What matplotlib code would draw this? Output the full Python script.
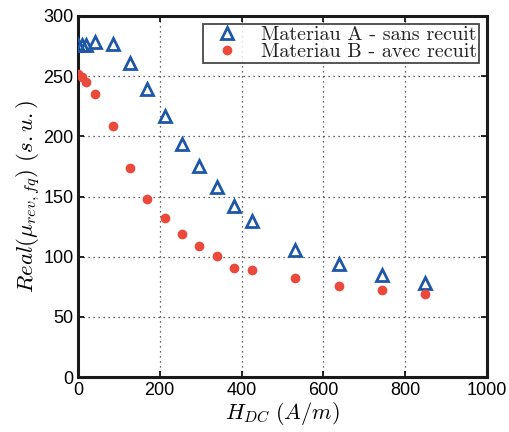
import matplotlib
matplotlib.use("Agg")
import matplotlib.pyplot as plt

plt.rcParams['mathtext.fontset'] = 'cm'
plt.rcParams['font.family'] = ['Liberation Sans', 'DejaVu Sans']

h_a = [0, 10, 20, 42, 85, 127, 170, 212, 255, 297, 340, 382, 425, 531, 637, 743, 849]
mu_a = [276, 276, 276, 278, 277, 261, 239, 217, 194, 175, 158, 142, 130, 106, 94, 85, 78]
h_b = [0, 10, 21, 42, 85, 127, 170, 212, 255, 297, 340, 382, 425, 531, 637, 743, 849]
mu_b = [252, 249, 245, 235, 209, 174, 148, 132, 119, 109, 101, 91, 89, 82, 76, 72, 69]

label_a = 'Materiau A - sans recuit'
label_b = 'Materiau B - avec recuit'
xticks = [0, 200, 400, 600, 800, 1000]
yticks = [0, 50, 100, 150, 200, 250, 300]

fig = plt.figure(figsize=(5.09, 4.32), dpi=100)
ax = fig.add_axes([0.153, 0.127, 0.804, 0.836])

ax.plot(h_a, mu_a, linestyle='none', marker='^', markersize=8, markerfacecolor='none',
        markeredgecolor='#1f57a8', markeredgewidth=2.0, label=label_a, zorder=3)
ax.plot(h_b, mu_b, linestyle='none', marker='o', markersize=6, markerfacecolor='#ea4a3c',
        markeredgecolor='#ea4a3c', label=label_b, zorder=3)

ax.set_xlim(0, 1000)
ax.set_ylim(0, 300)
ax.set_xticks(xticks)
ax.set_yticks(yticks)
ax.tick_params(direction='in', top=True, right=True, labelsize=13, length=4, width=1.2)
ax.tick_params(axis='x', pad=3.5)
ax.tick_params(axis='y', pad=3)
ax.grid(True, linestyle=(0, (1, 3)), color='#333333', linewidth=0.9)
for s in ax.spines.values():
    s.set_linewidth(2.2)
    s.set_color('#1a1a1a')

ax.set_xlabel(r'$H_{DC}\ (A/m)$', fontsize=16, labelpad=0.5)
ax.set_ylabel(r'$Real(\mu_{rev,fq})\ (s.u.)$', fontsize=16.5, labelpad=1)

leg = ax.legend(loc='upper right', prop={'family': 'cmr10', 'size': 14.5}, frameon=True,
                fancybox=False, edgecolor='#1a1a1a', borderpad=0.1, labelspacing=-0.05,
                handletextpad=0.6, borderaxespad=0.4, handlelength=2.2)
leg.get_frame().set_linewidth(1.3)
for t in leg.get_texts():
    t.set_color('#222222')

fig.savefig('out.png', dpi=100)
